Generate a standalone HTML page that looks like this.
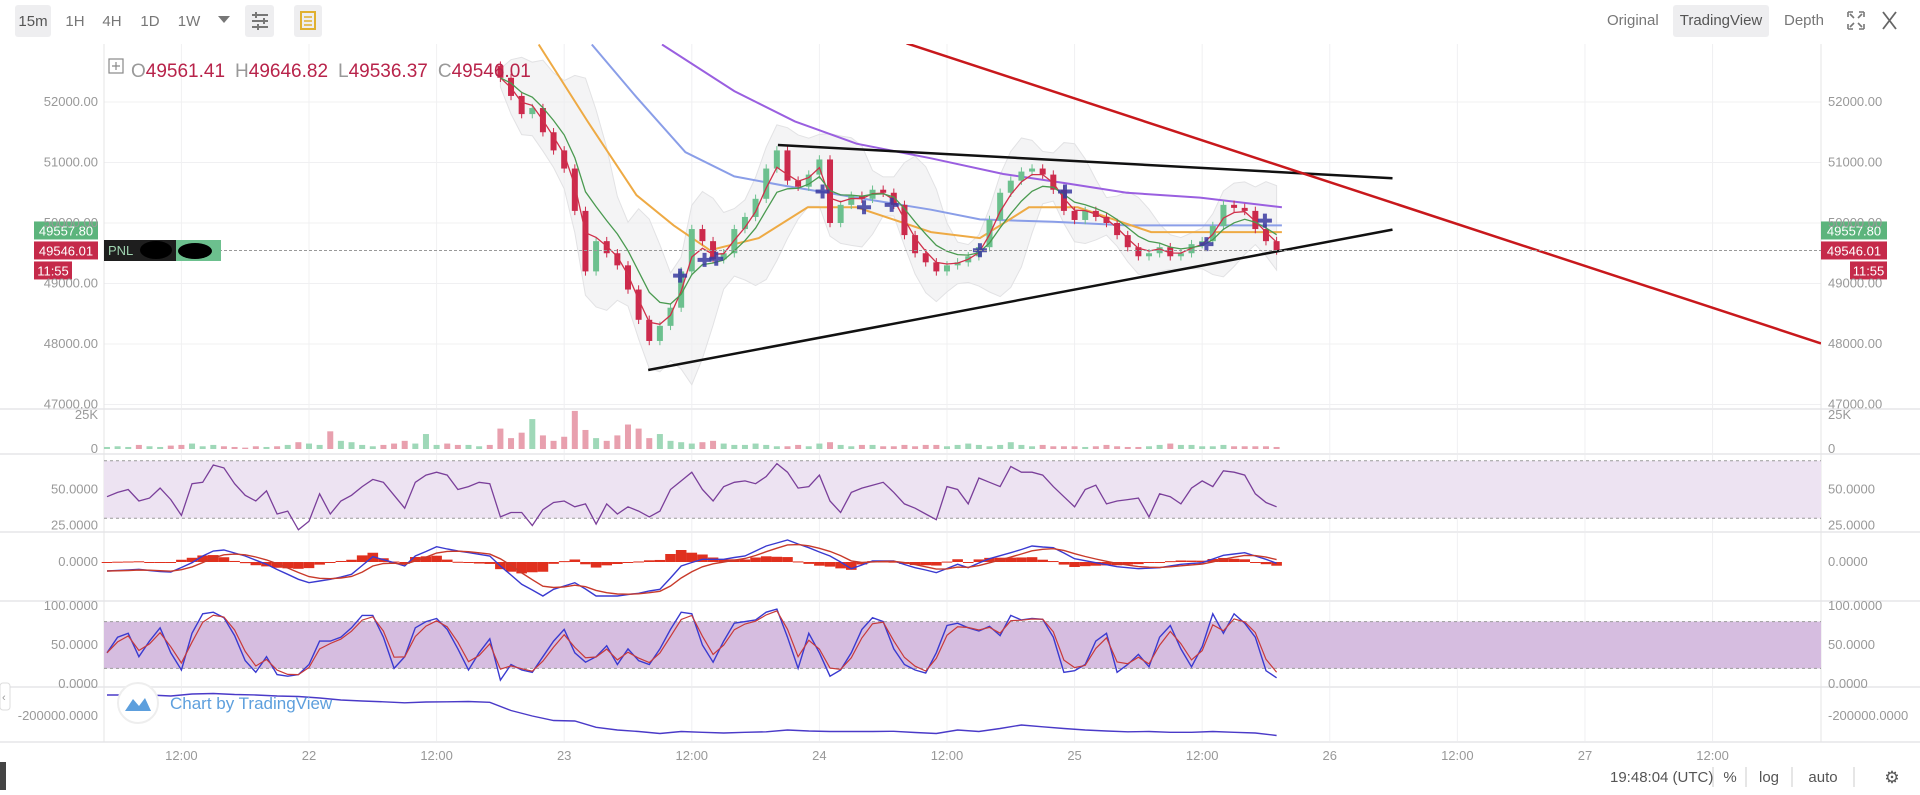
<!DOCTYPE html>
<html><head><meta charset="utf-8"><style>
html,body{margin:0;padding:0;background:#fff;width:1920px;height:795px;overflow:hidden;font-family:"Liberation Sans",sans-serif}
svg text{font-family:"Liberation Sans",sans-serif}
</style></head><body>
<svg id="chart" width="1920" height="795" viewBox="0 0 1920 795" xmlns="http://www.w3.org/2000/svg">
<rect x="0" y="0" width="1920" height="795" fill="#fff"/>
<g>
 <rect x="15" y="5" width="36" height="32" rx="3" fill="#eeeef0"/>
 <text x="33" y="26" font-size="15" fill="#555" text-anchor="middle">15m</text>
 <text x="75" y="26" font-size="15" fill="#777" text-anchor="middle">1H</text>
 <text x="112" y="26" font-size="15" fill="#777" text-anchor="middle">4H</text>
 <text x="150" y="26" font-size="15" fill="#777" text-anchor="middle">1D</text>
 <text x="189" y="26" font-size="15" fill="#777" text-anchor="middle">1W</text>
 <path d="M218 16 L230 16 L224 23 Z" fill="#777"/>
 <rect x="245" y="5" width="29" height="32" rx="3" fill="#eeeef0"/>
 <g stroke="#777" stroke-width="2"><line x1="252" y1="15" x2="268" y2="15"/><line x1="252" y1="21" x2="268" y2="21"/><line x1="252" y1="27" x2="268" y2="27"/><line x1="256" y1="12" x2="256" y2="18" /><line x1="264" y1="18" x2="264" y2="24"/><line x1="258" y1="24" x2="258" y2="30"/></g>
 <rect x="294" y="5" width="28" height="32" rx="3" fill="#eeeef0"/>
 <rect x="301" y="12" width="14" height="17" fill="none" stroke="#e0b030" stroke-width="2"/>
 <line x1="304" y1="17" x2="312" y2="17" stroke="#e0b030" stroke-width="1.5"/><line x1="304" y1="21" x2="312" y2="21" stroke="#e0b030" stroke-width="1.5"/><line x1="304" y1="25" x2="312" y2="25" stroke="#e0b030" stroke-width="1.5"/>
 <text x="1607" y="25" font-size="15" fill="#777">Original</text>
 <rect x="1673" y="5" width="96" height="32" rx="3" fill="#eeeef0"/>
 <text x="1721" y="25" font-size="15" fill="#555" text-anchor="middle">TradingView</text>
 <text x="1784" y="25" font-size="15" fill="#777">Depth</text>
 <g stroke="#777" stroke-width="1.6" fill="none"><path d="M1848 12 h5 M1848 12 v5 M1864 12 h-5 M1864 12 v5 M1848 29 h5 M1848 29 v-5 M1864 29 h-5 M1864 29 v-5 M1850 14 l4 4 M1862 14 l-4 4 M1850 27 l4 -4 M1862 27 l-4 -4"/></g>
 <g stroke="#666" stroke-width="1.8"><line x1="1883" y1="12" x2="1896" y2="29"/><line x1="1896" y1="12" x2="1883" y2="29"/></g>
</g>
<g id="grid"></g>
<g id="panes"></g>
<g id="axes"></g>
<g>
 <rect x="0" y="762" width="6" height="28" fill="#444"/>
 <rect x="0" y="683" width="10" height="27" rx="3" fill="#fff" stroke="#ddd"/>
 <text x="2" y="701" font-size="11" fill="#999">‹</text>
 <text x="1610" y="782" font-size="15" fill="#555">19:48:04 (UTC)</text>
 <line x1="1713" y1="767" x2="1713" y2="787" stroke="#ccc"/>
 <text x="1730" y="782" font-size="15" fill="#555" text-anchor="middle">%</text>
 <line x1="1746" y1="767" x2="1746" y2="787" stroke="#ccc"/>
 <text x="1769" y="782" font-size="15" fill="#555" text-anchor="middle">log</text>
 <line x1="1792" y1="767" x2="1792" y2="787" stroke="#ccc"/>
 <text x="1823" y="782" font-size="15" fill="#555" text-anchor="middle">auto</text>
 <line x1="1854" y1="767" x2="1854" y2="787" stroke="#ccc"/>
 <text x="1892" y="783" font-size="17" fill="#555" text-anchor="middle">⚙</text>
</g>
</svg>
<script>
// ---- data (h = hours since 22nd 00:00 UTC) ----
const priceStartH = 18;
const closes = [52400,52100,51800,51900,51500,51200,50900,50200,49200,49700,49500,49300,48900,48400,48050,48300,48600,49200,49900,49700,49400,49500,49900,50100,50400,50900,51200,50700,50600,50800,51050,50000,50300,50450,50400,50550,50500,50300,49800,49500,49350,49200,49300,49350,49450,49600,50050,50500,50700,50850,50900,50800,50550,50200,50050,50200,50100,50000,49800,49600,49450,49500,49600,49450,49500,49650,49700,49950,50300,50250,50200,49900,49700,49546];
const indStartH = -19;
const volumesK = [1.5,2,1.5,3,2,1.5,2.5,3,4,2,3,2,1.5,1,2,1.5,2,3,5, 4,3,13,6,5,3,2,3,4,6,4,11,3,4,3,3,2,3, 15,8,12,22,10,6,9,28,14,8,6,10,18,15,8,11,6,5, 4,5,6,4,3,3,4,3,2,2,3,2,4,5,3,2,3,3, 2,2,3,2,3,3,2,3,4,3,2,3,5,3,2,3,2,2, 2,1.5,2,3,2,1.5,1.5,2,3,4,3,3,2,2,3,2,2,2,2,1.5];
const rsiValues = [45,48,50,42,44,51,43,32,54,55,67,65,54,46,42,49,33,35,22,28,47,33,42,46,52,57,55,46,37,55,60,62,60,50,52,55,54,31,34,34,25,36,41,42,38,40,26,40,33,38,35,31,35,50,56,62,50,42,52,55,56,54,59,68,62,51,52,60,42,34,48,51,53,55,48,40,37,33,29,52,50, 40,58,55,52,66,62,62,60,52,45,38,50,53,40,42,43,44,31,47,45,40,51,56,52,63,62,60,47,41,38];
const macdValues = [-90,-85,-80,-73,-85,-95,-100,-55,-7,60,110,120,90,60,18,-23,-75,-123,-173,-207,-190,-173,-150,-123,-35,53,23,-7,-40,60,105,153,130,110,95,77,60,-40,-130,-223,-280,-340,-273,-240,-207,-270,-340,-340,-340,-325,-313,-290,-273,-160,-40,-5,27,27,27,45,60,110,160,190,220,180,143,100,60,0,-67,-30,10,10,10,-25,-57,-80,-107,-65,-23,-57,-10,33,63,93,125,160,150,143,90,33,13,-7,-27,-47,-57,-67,-62,-57,-40,-23,-15,-7,30,67,80,93,60,27,-13];
const stochK = [40,60,65,35,55,72,40,18,65,90,92,85,62,30,15,35,12,10,12,25,55,55,60,72,88,88,60,20,35,72,80,84,70,45,18,40,58,5,25,18,15,35,55,70,40,28,35,49,25,45,30,25,45,70,92,90,50,28,55,78,80,82,92,96,60,20,65,40,10,18,40,70,85,80,45,25,18,14,40,75,78, 72,68,74,62,88,82,84,83,60,15,17,25,55,65,15,25,38,22,60,75,45,22,48,90,65,90,78,60,17,8];
const obvStep = 2;
const obvValues = [-116000,-116000,-116000,-120000,-112000,-110000,-114000,-116000,-120000,-122000,-128000,-136000,-140000,-143000,-147000,-144000,-143000,-142000,-145000,-178000,-200000,-218000,-220000,-245000,-256000,-262000,-270000,-262000,-265000,-268000,-265000,-263000,-256000,-260000,-262000,-262000,-262000,-261000,-266000,-270000,-256000,-262000,-250000,-236000,-243000,-250000,-256000,-260000,-263000,-262000,-265000,-265000,-262000,-265000,-268000,-278000];
const ma200H = [33.2,40,45.7,51.5,58.5,65.3,71.1,76.9,83.8,91.5];
const ma200P = [52950,52180,51680,51310,51070,50810,50660,50500,50420,50260];
const ma100H = [26.6,30.8,35.4,40,44.6,51.5,58.5,63.1,70,76.9,83.8,91.5];
const ma100P = [52950,52080,51170,50770,50620,50420,50220,50060,50020,49960,49960,49960];
const ma50H = [21.6,26.2,30.8,34.3,37.7,42.3,46.9,51.5,58.5,63.1,67.7,72.3,79.2,86.1,91.5];
const ma50P = [52950,51680,50460,49960,49550,49750,50260,50260,49850,49750,50260,50260,49850,49850,49850];
const crossH = [34.9,37.2,38.3,48.3,52.2,54.8,63.1,71.1,84.4,89.9];
const crossP = [49130,49390,49410,50520,50260,50300,49550,50520,49650,50040];
const trendUpper = [[44.1,51290],[101.9,50740]];
const trendLower = [[31.9,47570],[101.9,49890]];
const trendRed = [[56.2,52970],[142.2,48010]];
const priceTicks = [52000,51000,50000,49000,48000,47000];
const timeTickH = [-12,0,12,24,36,48,60,72,84,96,108,120,132];
const timeTickLabels = ["12:00","22","12:00","23","12:00","24","12:00","25","12:00","26","12:00","27","12:00"];
const ohlc = ["49561.41","49646.82","49536.37","49546.01"];
const lastPrice = 49546.01, bidPrice = 49557.80;

// ---- scales ----
const X0=104, X1=1821;
const xH = h => 309 + h*10.633;
const yP = p => 223 - (p-50000)*0.0605;
const yV = v => 449 - v/25*34;
const yR = r => 518.3 - (r-30)*1.44;
const yM = v => 562 - v*0.1;
const yS = v => 684 - v*0.78;
const yO = v => 716 - (v+200000)/4000;

const NS="http://www.w3.org/2000/svg";
function mk(tag, attrs, parent){const e=document.createElementNS(NS,tag);for(const k in attrs)e.setAttribute(k,attrs[k]);parent.appendChild(e);return e;}
const grid=document.getElementById('grid'), panes=document.getElementById('panes'), axes=document.getElementById('axes');

const defs=mk('defs',{},panes);
const cp=mk('clipPath',{id:'mainclip'},defs); mk('rect',{x:X0,y:44,width:X1-X0,height:364},cp);

timeTickH.forEach((h,i)=>{const x=xH(h);
 const l=mk('line',{x1:x,y1:44,x2:x,y2:742,stroke:'#f0f0f2','stroke-width':1},grid);
  
 const t=mk('text',{x:x,y:760,'font-size':13,fill:'#999','text-anchor':'middle'},axes);
 t.textContent=timeTickLabels[i];
  
});
priceTicks.forEach(p=>{const y=yP(p);
 const l=mk('line',{x1:X0,y1:y,x2:X1,y2:y,stroke:'#f0f0f2'},grid);
  
});
[409,454,532,601,687,742].forEach(y=>{const l=mk('line',{x1:0,y1:y,x2:1920,y2:y,stroke:'#ececee','stroke-width':2},grid);
  });
mk('line',{x1:X0,y1:44,x2:X0,y2:742,stroke:'#e4e4e6'},grid);
mk('line',{x1:X1,y1:44,x2:X1,y2:742,stroke:'#e4e4e6'},grid);

function axisLabel(txt,y,name){
 const a=mk('text',{x:98,y:y+4,'font-size':13,fill:'#999','text-anchor':'end'},axes); a.textContent=txt;
  
 const b=mk('text',{x:1828,y:y+4,'font-size':13,fill:'#999'},axes); b.textContent=txt;
  
}
priceTicks.forEach(p=>axisLabel(p.toFixed(2),yP(p),'price-tick'));
axisLabel('25K',yV(25),'volume-tick'); axisLabel('0',yV(0),'volume-tick');
axisLabel('50.0000',yR(50),'rsi-tick'); axisLabel('25.0000',yR(25),'rsi-tick');
axisLabel('0.0000',yM(0),'macd-tick');
axisLabel('100.0000',yS(100),'stoch-tick'); axisLabel('50.0000',yS(50),'stoch-tick'); axisLabel('0.0000',yS(0),'stoch-tick');
axisLabel('-200000.0000',yO(-200000),'obv-tick');

// ---- main price pane ----
const main=mk('g',{'clip-path':'url(#mainclip)'},panes);
 
function poly(pts,attrs,parent){return mk('polyline',Object.assign({points:pts.map(p=>p[0].toFixed(1)+','+p[1].toFixed(1)).join(' '),fill:'none'},attrs),parent);}
const N=closes.length, upper=[], lower=[];
for(let i=0;i<N;i++){const s=closes.slice(Math.max(0,i-4),i+1);const m=s.reduce((a,b)=>a+b,0)/s.length;
 const sd=Math.sqrt(s.reduce((a,b)=>a+(b-m)*(b-m),0)/s.length);upper.push(m+2*sd+150);lower.push(m-2*sd-150);}
let bpts=[];for(let i=0;i<N;i++)bpts.push([xH(priceStartH+i),yP(upper[i])]);for(let i=N-1;i>=0;i--)bpts.push([xH(priceStartH+i),yP(lower[i])]);
const band=mk('polygon',{points:bpts.map(p=>p.join(',')).join(' '),fill:'#ececee','fill-opacity':0.6,stroke:'#e2e2e4','stroke-width':1},main);
 
[[ma200H,ma200P,'#9a5fe0','ma-200'],[ma100H,ma100P,'#8a9ee8','ma-100'],[ma50H,ma50P,'#eeaa44','ma-50']].forEach(([hs,ps,c,n])=>{
 const l=poly(hs.map((h,i)=>[xH(h),yP(ps[i])]),{stroke:c,'stroke-width':2},main);
  });
for(let i=0;i<N;i++){const o=i?closes[i-1]:closes[0]+200, c=closes[i];const up=c>=o;const col=up?'#6cc08e':'#cc2a4c';
 const x=xH(priceStartH+i);
 const w=mk('line',{x1:x,y1:yP(Math.max(o,c)+70),x2:x,y2:yP(Math.min(o,c)-70),stroke:col,'stroke-width':1},main);
  
 const top=yP(Math.max(o,c)), bot=yP(Math.min(o,c));
 const r=mk('rect',{x:x-3,y:top,width:6,height:Math.max(1,bot-top),fill:col},main);
  }
function ema(arr,a){const out=[];arr.forEach((v,i)=>out.push(i?out[i-1]+a*(v-out[i-1]):v));return out;}
const emaFast=ema(closes,0.55), emaSlow=ema(closes,0.3);
const ef=poly(emaFast.map((v,i)=>[xH(priceStartH+i),yP(v)]),{stroke:'#d0304a','stroke-width':1.3},main);
 
const es=poly(emaSlow.map((v,i)=>[xH(priceStartH+i),yP(v)]),{stroke:'#4a9a50','stroke-width':1.3},main);
 
crossH.forEach((h,i)=>{const x=xH(h),y=yP(crossP[i]);
 const c=mk('path',{d:`M${x-7} ${y} H${x+7} M${x} ${y-7} V${y+7}`,stroke:'#3a3aa0','stroke-width':4,'stroke-opacity':0.85},main);
  });
[[trendUpper,'#111','trendline-upper'],[trendLower,'#111','trendline-lower'],[trendRed,'#c8181c','trendline-red']].forEach(([t,c,n])=>{
 const l=mk('line',{x1:xH(t[0][0]),y1:yP(t[0][1]),x2:xH(t[1][0]),y2:yP(t[1][1]),stroke:c,'stroke-width':2.5},main);
  });
const lp=mk('line',{x1:X0,y1:yP(lastPrice),x2:X1,y2:yP(lastPrice),stroke:'#999','stroke-dasharray':'3,2'},panes);
 
const lg=mk('g',{},panes);  
mk('rect',{x:109,y:59,width:14,height:14,fill:'none',stroke:'#888','stroke-width':1.2},lg);
mk('path',{d:'M112 66 H120 M116 62 V70',stroke:'#888','stroke-width':1.2},lg);
const lt=mk('text',{x:131,y:77,'font-size':19},lg);
['O','H','L','C'].forEach((k,i)=>{const a=mk('tspan',{fill:'#999',dx:i?10:0},lt);a.textContent=k;const b=mk('tspan',{fill:'#b8234a'},lt);b.textContent=ohlc[i];});
function tag(x,y,w,txt,bg,name){const g=mk('g',{},panes);
 mk('rect',{x:x,y:y-9,width:w,height:18,fill:bg},g);const t=mk('text',{x:x+w/2,y:y+5,'font-size':13,fill:'#fff','text-anchor':'middle'},g);t.textContent=txt;}
const yl=yP(lastPrice), yb=yl-20;
tag(34,yb,64,bidPrice.toFixed(2),'#5cb47c','bid-price-label-left'); tag(1821,yb,66,bidPrice.toFixed(2),'#5cb47c','bid-price-label-right');
tag(34,yl,64,lastPrice.toFixed(2),'#c52a4a','last-price-label-left'); tag(1821,yl,66,lastPrice.toFixed(2),'#c52a4a','last-price-label-right');
tag(34,yl+20,38,'11:55','#c52a4a','countdown-left'); tag(1850,yl+20,37,'11:55','#c52a4a','countdown-right');
const pnl=mk('g',{},panes);  
mk('rect',{x:104,y:240,width:117,height:21,fill:'#6cc08e'},pnl);mk('rect',{x:104,y:240,width:72,height:21,fill:'#1e1e1e'},pnl);
mk('ellipse',{cx:156,cy:250,rx:16,ry:9,fill:'#000'},pnl);mk('ellipse',{cx:195,cy:251,rx:17,ry:8,fill:'#000'},pnl);
const pt=mk('text',{x:108,y:255,'font-size':13,fill:'#9fd4b0','font-family':'Liberation Serif'},pnl);pt.textContent='PNL';

// ---- volume ----
const vg=mk('g',{},panes);  
volumesK.forEach((v,i)=>{const h=indStartH+i;let up;const pi=h-priceStartH;
 if(pi>=0&&pi<N){up=closes[pi]>=(pi?closes[pi-1]:closes[0]+200);}else{up=i?rsiValues[i]>=rsiValues[i-1]:true;}
 const r=mk('rect',{x:xH(h)-3,y:yV(v),width:6,height:yV(0)-yV(v),fill:up?'#9fd8b8':'#e8a0ae'},vg);
  });

// ---- RSI ----
const rg=mk('g',{},panes);  
mk('rect',{x:X0,y:yR(70),width:X1-X0,height:yR(30)-yR(70),fill:'#ede3f2'},rg);
[70,30].forEach(v=>mk('line',{x1:X0,y1:yR(v),x2:X1,y2:yR(v),stroke:'#999','stroke-dasharray':'3,3'},rg));
const rl=poly(rsiValues.map((v,i)=>[xH(indStartH+i),yR(v)]),{stroke:'#7a3f9a','stroke-width':1.3},rg);
 

// ---- MACD ----
const mg=mk('g',{},panes);  
const signal=ema(macdValues,0.4);
macdValues.forEach((v,i)=>{const d=(v-signal[i]);const x=xH(indStartH+i);
 const r=mk('rect',{x:x-5.3,y:Math.min(yM(0),yM(d)),width:10.6,height:Math.max(1,Math.abs(yM(d)-yM(0))),fill:'#e0301e'},mg);
  });
const ml=poly(macdValues.map((v,i)=>[xH(indStartH+i),yM(v)]),{stroke:'#3a3ad0','stroke-width':1.4},mg);
 
const sl=poly(signal.map((v,i)=>[xH(indStartH+i),yM(v)]),{stroke:'#c83a2a','stroke-width':1.4},mg);
 

// ---- Stoch ----
const sg=mk('g',{},panes);  
mk('rect',{x:X0,y:yS(80),width:X1-X0,height:yS(20)-yS(80),fill:'#d6bde0'},sg);
[80,20].forEach(v=>mk('line',{x1:X0,y1:yS(v),x2:X1,y2:yS(v),stroke:'#999','stroke-dasharray':'3,3'},sg));
const stochD=ema(stochK,0.7);
const kl=poly(stochK.map((v,i)=>[xH(indStartH+i),yS(v)]),{stroke:'#3a3ad0','stroke-width':1.4},sg);
 
const dl=poly(stochD.map((v,i)=>[xH(indStartH+i),yS(v)]),{stroke:'#c83a3a','stroke-width':1.2},sg);
 

// ---- OBV ----
const og=mk('g',{},panes);  
const ol=poly(obvValues.map((v,i)=>[xH(indStartH+i*obvStep),yO(v)]),{stroke:'#4a3ac8','stroke-width':1.4},og);
 
const wm=mk('g',{},panes);  
mk('circle',{cx:138,cy:703,r:20,fill:'#fff',stroke:'#eee','stroke-width':2},wm);
mk('path',{d:'M125 711 L133 699 L139 706 L145 698 L151 711 Z',fill:'#5d9fdd'},wm);
const wt=mk('text',{x:170,y:709,'font-size':17,fill:'#5d9fdd'},wm); wt.textContent='Chart by TradingView';
</script>
</body></html>
